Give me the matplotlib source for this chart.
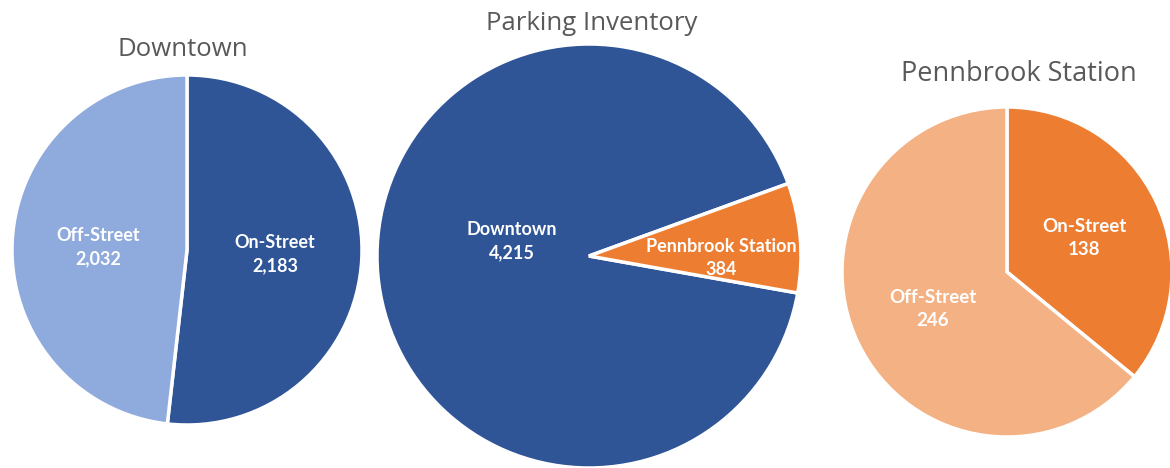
import numpy as np
import matplotlib.pyplot as plt

# Parking counts
downtown_labels = ["On-Street", "Off-Street"]
downtown_counts = [2183, 2032]

inventory_labels = ["Downtown", "Pennbrook Station"]
inventory_counts = [4215, 384]

pennbrook_labels = ["On-Street", "Off-Street"]
pennbrook_counts = [138, 246]

titles = ["Downtown", "Parking Inventory", "Pennbrook Station"]

BLUE = "#2F5597"
LIGHT_BLUE = "#8FAADC"
ORANGE = "#ED7D31"
LIGHT_ORANGE = "#F4B183"
TITLE_GRAY = "#595959"

W, H = 1170, 468

fig = plt.figure(figsize=(W / 100, H / 100), dpi=100)
ax = fig.add_axes([0, 0, 1, 1])

# layout in pixel units, y measured from the top
pies = [
    dict(labels=downtown_labels, counts=downtown_counts, center=(187, 250), radius=175,
         start=90, colors=[BLUE, LIGHT_BLUE], counterclock=False,
         title_xy=(183, 50), title_size=18.5, label_size=13,
         label_xy=[(275, 254), (98, 247)]),
    dict(labels=inventory_labels, counts=inventory_counts, center=(589, 256), radius=212,
         start=20, colors=[BLUE, ORANGE], counterclock=True,
         title_xy=(592, 23), title_size=18.5, label_size=13,
         label_xy=[(512, 241), (721, 258)]),
    dict(labels=pennbrook_labels, counts=pennbrook_counts, center=(1007, 272), radius=165,
         start=90, colors=[ORANGE, LIGHT_ORANGE], counterclock=False,
         title_xy=(1019, 74), title_size=19.5, label_size=13.5,
         label_xy=[(1084, 238), (933, 309)]),
]

for p, title in zip(pies, titles):
    cx, cy = p["center"]
    ax.pie(p["counts"], colors=p["colors"], startangle=p["start"],
           counterclock=p["counterclock"], center=(cx, H - cy), radius=p["radius"],
           wedgeprops=dict(edgecolor="white", linewidth=2.5), frame=True)
    for name, val, (x, y) in zip(p["labels"], p["counts"], p["label_xy"]):
        ax.text(x, H - y, f"{name}\n{val:,}", ha="center", va="center", color="white",
                fontsize=p["label_size"], fontweight="bold", family="Lato",
                linespacing=1.45)
    tx, ty = p["title_xy"]
    ax.text(tx, H - ty, title, ha="center", va="center", color=TITLE_GRAY,
            fontsize=p["title_size"], family="Open Sans")

ax.set_xlim(0, W)
ax.set_ylim(0, H)
ax.set_aspect("equal")
ax.axis("off")

fig.savefig("out.png", dpi=100)
